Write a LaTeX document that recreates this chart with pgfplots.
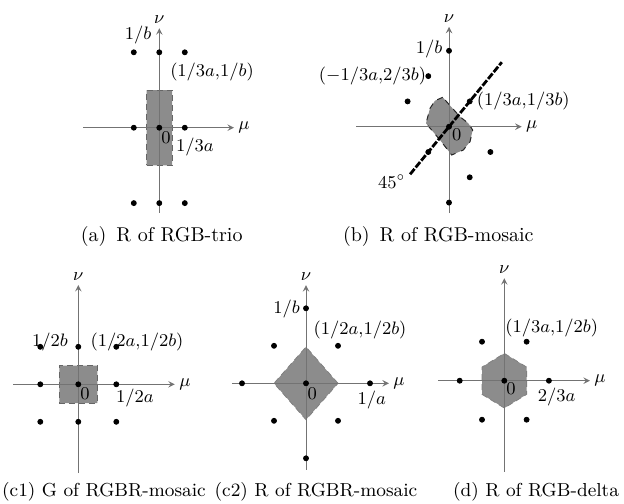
\documentclass[border=0pt]{standalone}
\usepackage{pgfplots}
\pgfplotsset{compat=1.18}
\tikzset{lab/.style={font=\small, inner sep=0pt}}
\begin{document}
\begin{tikzpicture}
\path[use as bounding box] (0pt,0pt) rectangle (312pt,-251.5pt);
\pgfplotsset{
  panel/.style={
    axis lines=middle,
    axis line style={draw=black!55, line width=0.45pt},
    axis on top,
    xtick=\empty, ytick=\empty,
    anchor=origin, clip=false,
    xlabel={$\mu$}, ylabel={$\nu$},
    every axis x label/.style={at={(current axis.right of origin)}, anchor=west, font=\small, inner sep=2pt},
    every axis y label/.style={at={(current axis.above origin)}, anchor=south, font=\small, inner sep=2pt},
  },
  dots/.style={only marks, mark=*, mark size=1.25pt, black},
  region/.style={fill=black!45, draw=black!60, densely dashed, line width=0.4pt},
}
% (a)
\begin{axis}[panel, at={(79.65pt,-63.85pt)}, x=12.75pt, y=37.7pt,
  xmin=-2.98, xmax=2.93, ymin=-1.13, ymax=1.32]
\addplot[region] coordinates {(-0.5,-0.5) (0.5,-0.5) (0.5,0.5) (-0.5,0.5) (-0.5,-0.5)};
\addplot[dots] coordinates {(-1,1) (0,1) (1,1) (-1,0) (0,0) (1,0) (-1,-1) (0,-1) (1,-1)};
\node[lab] at (axis cs:-0.835,1.229) {$1/b$};
\node[lab] at (axis cs:2.067,0.743) {$(1/3a{,}1/b)$};
\node[lab] at (axis cs:0.263,-0.137) {$0$};
\node[lab] at (axis cs:1.4,-0.252) {$1/3a$};
\end{axis}
% (b)
\begin{axis}[panel, at={(224.5pt,-63.35pt)}, x=10.35pt, y=12.65pt,
  xmin=-4.49, xmax=3.51, ymin=-3.42, ymax=3.95]
\addplot[fill=black!45, draw=black!85, dashed, line width=0.5pt] coordinates {
 (-0.304,1.162) (-0.676,1.028) (-0.918,0.727) (-1.111,0.134) (-0.435,-0.526)
 (0.130,-1.119) (0.691,-0.921) (1.014,-0.593) (1.145,-0.130) (0.932,0.134)
 (0.531,0.395) (-0.304,1.162)};
\addplot[dots] coordinates {(0,3) (-1,2) (-2,1) (2,-1) (1,-2) (0,-3) (0,0) (1,1) (-1,-1)};
\addplot[black, line width=1.4pt, dash pattern=on 3.5pt off 0.9pt] coordinates {(-1.88,-1.88) (2.55,2.55)};
\node[lab] at (axis cs:-0.966,3.071) {$1/b$};
\node[lab] at (axis cs:-3.696,2.004) {$(-1/3a{,}2/3b)$};
\node[lab, anchor=west] at (axis cs:1.329,1.016) {$(1/3a{,}1/3b)$};
\node[lab] at (axis cs:0.372,-0.328) {$0$};
\node[lab] at (axis cs:-2.768,-2.174) {$45^\circ$};
\end{axis}
% (c1)
\begin{axis}[panel, at={(39.15pt,-192.15pt)}, x=19pt, y=18.75pt,
  xmin=-1.71, xmax=2.54, ymin=-2.37, ymax=2.65]
\addplot[region] coordinates {(-0.5,-0.5) (0.5,-0.5) (0.5,0.5) (-0.5,0.5) (-0.5,-0.5)};
\addplot[dots] coordinates {(-1,1) (0,1) (1,1) (-1,0) (0,0) (1,0) (-1,-1) (0,-1) (1,-1)};
\node[lab] at (axis cs:-0.745,1.136) {$1/2b$};
\node[lab] at (axis cs:1.545,1.136) {$(1/2a{,}1/2b)$};
\node[lab] at (axis cs:0.176,-0.24) {$0$};
\node[lab] at (axis cs:1.492,-0.373) {$1/2a$};
\end{axis}
% (c2)
\begin{axis}[panel, at={(153pt,-191.65pt)}, x=16pt, y=18.75pt,
  xmin=-2.32, xmax=2.59, ymin=-2.31, ymax=2.62]
\addplot[region, draw=black!50] coordinates {(1,0) (0,0.97) (-1,0) (0,-0.97) (1,0)};
\addplot[dots] coordinates {(0,2) (0,-2) (-2,0) (2,0) (1,1) (-1,1) (1,-1) (-1,-1) (0,0)};
\node[lab] at (axis cs:-0.603,1.973) {$1/b$};
\node[lab] at (axis cs:1.6875,1.421) {$(1/2a{,}1/2b)$};
\node[lab] at (axis cs:0.197,-0.267) {$0$};
\node[lab] at (axis cs:2.053,-0.445) {$1/a$};
\end{axis}
% (d)
\begin{axis}[panel, at={(252.15pt,-190.35pt)}, x=11.15pt, y=19.5pt,
  xmin=-2.96, xmax=3.84, ymin=-2.33, ymax=2.63]
\addplot[region, draw=black!50] coordinates {(0,0.70) (1,0.35) (1,-0.35) (0,-0.70) (-1,-0.35) (-1,0.35) (0,0.70)};
\addplot[dots] coordinates {(-2,0) (2,0) (1,1) (-1,1) (1,-1) (-1,-1) (0,0)};
\node[lab] at (axis cs:2.126,1.344) {$(1/3a{,}1/2b)$};
\node[lab] at (axis cs:0.3,-0.195) {$0$};
\node[lab] at (axis cs:2.35,-0.41) {$2/3a$};
\end{axis}
% captions
\node[inner sep=0pt] at (80.85pt,-118pt) {(a)\hspace{0.5em}R of RGB-trio};
\node[inner sep=0pt] at (219.15pt,-118pt) {(b)\hspace{0.5em}R of RGB-mosaic};
\node[inner sep=0pt, font=\fontsize{9.4}{11}\selectfont] at (52pt,-246pt) {(c1) G of RGBR-mosaic};
\node[inner sep=0pt, font=\fontsize{9.4}{11}\selectfont] at (158pt,-246pt) {(c2) R of RGBR-mosaic};
\node[inner sep=0pt, font=\fontsize{9.4}{11}\selectfont] at (268pt,-246pt) {(d) R of RGB-delta};
\end{tikzpicture}
\end{document}
